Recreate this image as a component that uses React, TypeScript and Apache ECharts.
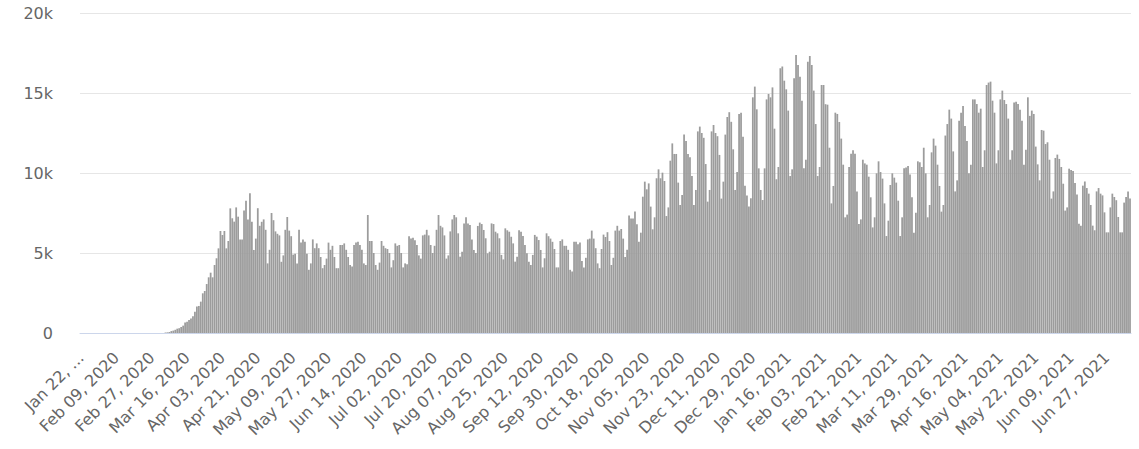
import React, { useEffect, useRef } from 'react';
import * as echarts from 'echarts';

// ---- categories: one per day from Jan 22, 2020 ----
const START_UTC = Date.UTC(2020, 0, 22);
const DAY_COUNT = 535;
const MONTH_NAMES = ['Jan', 'Feb', 'Mar', 'Apr', 'May', 'Jun', 'Jul', 'Aug', 'Sep', 'Oct', 'Nov', 'Dec'];
const dates: string[] = [];
for (let i = 0; i < DAY_COUNT; i++) {
  const d = new Date(START_UTC + i * 86400000);
  const dd = String(d.getUTCDate()).padStart(2, '0');
  dates.push(`${MONTH_NAMES[d.getUTCMonth()]} ${dd}, ${d.getUTCFullYear()}`);
}

// ---- daily values, month by month ----
const jan2020 = [0, 0, 0, 0, 0, 0, 0, 0, 0, 0];
const feb2020 = [0, 0, 0, 0, 0, 0, 0, 0, 0, 0, 0, 0, 0, 0, 0, 0, 0, 0, 0, 0, 0, 0, 0, 0, 0, 0, 0, 0, 0];
const mar2020 = [0, 0, 0, 0, 30, 40, 60, 120, 150, 200, 270, 300, 375, 460, 650, 710, 810, 900, 1040, 1330, 1650, 1690, 1960, 2480, 2625, 3060, 3480, 3770, 3480, 4250, 4670];
const apr2020 = [5290, 6375, 6125, 6375, 5290, 5750, 7790, 7170, 6960, 7850, 7270, 5850, 5850, 7650, 8270, 7100, 8730, 6960, 5190, 5900, 7800, 6700, 6950, 7100, 6450, 4350, 5200, 7500, 7050, 6350];
const may2020 = [6200, 6100, 4450, 4850, 6450, 7250, 6400, 6050, 4900, 4950, 4350, 6450, 5650, 5850, 5700, 4950, 3950, 4350, 5850, 5300, 5600, 5300, 4750, 4050, 4250, 4650, 5650, 5200, 5450, 4750, 4050];
const jun2020 = [4050, 5500, 5500, 5600, 5200, 4750, 4250, 4150, 5500, 5650, 5700, 5500, 5200, 4350, 4250, 7375, 5750, 5750, 5000, 4250, 3950, 4400, 5750, 5450, 5300, 5250, 5000, 4100, 4550, 5600];
const jul2020 = [5450, 5500, 5000, 4100, 4350, 4300, 6050, 5900, 5950, 5800, 5500, 4850, 4650, 6100, 6150, 6450, 6100, 5500, 5000, 5450, 6450, 7375, 6700, 6600, 6100, 4650, 4850, 6350, 7100, 7375, 7230];
const aug2020 = [6230, 4770, 5080, 6850, 7230, 6850, 6750, 5850, 5190, 5000, 6690, 6900, 6810, 6440, 5920, 4980, 5080, 6850, 6810, 6330, 6230, 5920, 4880, 4600, 6540, 6420, 6330, 6020, 5600, 4460, 4770];
const sep2020 = [6420, 6330, 6060, 5500, 4980, 4460, 4250, 4880, 6130, 6020, 5810, 5190, 4100, 4670, 6230, 6050, 5900, 5700, 5250, 4100, 4100, 5750, 5850, 5450, 5450, 5200, 3950, 3850, 5700, 5700];
const oct2020 = [5550, 5650, 4500, 4100, 4700, 5850, 5900, 6400, 5900, 5300, 4350, 4050, 5250, 6150, 6000, 6300, 5750, 4250, 4700, 6400, 6700, 6400, 6500, 5900, 4750, 5200, 7350, 7150, 7150, 7600, 6800];
const nov2020 = [5710, 6270, 8520, 9460, 8980, 9350, 7900, 6480, 7230, 9670, 10230, 9670, 10020, 9500, 7310, 7850, 10770, 11850, 11190, 11190, 9400, 8000, 8625, 12400, 12000, 11190, 10980, 9810, 8000, 8940];
const dec2020 = [12600, 12900, 12500, 12200, 10560, 8210, 8940, 12600, 13000, 12500, 12300, 11130, 8400, 9460, 12400, 13500, 13800, 13200, 11480, 8940, 10060, 13690, 13770, 12270, 9200, 8600, 7900, 8420, 14730, 15400, 13980];
const jan2021 = [10290, 8940, 8310, 10290, 14600, 14940, 14730, 15350, 12770, 9610, 10375, 16540, 16650, 15770, 15230, 13900, 9810, 10230, 15920, 17380, 16750, 16020, 14520, 10290, 10830, 16960, 17310, 16750, 15150, 13060, 9810];
const feb2021 = [10375, 15500, 15500, 14300, 14270, 11580, 8100, 9190, 13770, 13690, 13190, 12150, 10520, 7230, 7400, 10375, 11210, 11420, 11210, 8850, 6810, 7100, 10830, 10600, 10520, 9770, 8480, 6600];
const mar2021 = [7230, 9980, 10730, 10060, 9650, 8100, 6060, 7020, 9250, 9980, 9710, 9400, 8270, 6060, 7230, 10290, 10350, 10440, 9900, 8480, 6270, 7520, 10730, 10670, 10375, 11580, 9980, 7230, 8000, 11290, 12150];
const apr2021 = [11710, 10520, 9190, 7585, 8000, 12340, 13060, 13960, 13400, 11350, 8850, 9540, 13260, 13770, 14190, 12940, 12000, 9980, 10520, 14600, 14600, 14310, 13770, 14020, 10375, 11420, 15500, 15650, 15710, 14520];
const may2021 = [13770, 10600, 11420, 14600, 15150, 14560, 14310, 13400, 10830, 11420, 14400, 14460, 14310, 13960, 13260, 10520, 11460, 14730, 13570, 13900, 13690, 11650, 10540, 9540, 12690, 12650, 11810, 11920, 10830, 8400, 8850];
const jun2021 = [10940, 11150, 10880, 10375, 9330, 7650, 7850, 10270, 10190, 10130, 9370, 8650, 6830, 6710, 9210, 9470, 9060, 8710, 8000, 6710, 6420, 8850, 9060, 8710, 8600, 7540, 6290, 6290, 7850, 8710];
const jul2021 = [8500, 8300, 7250, 6290, 6290, 8150, 8500, 8850, 8400];

const dailyValues: number[] = [
  ...jan2020, ...feb2020, ...mar2020, ...apr2020, ...may2020, ...jun2020,
  ...jul2020, ...aug2020, ...sep2020, ...oct2020, ...nov2020, ...dec2020,
  ...jan2021, ...feb2021, ...mar2021, ...apr2021, ...may2021, ...jun2021, ...jul2021,
];

const yTicks = [0, 5000, 10000, 15000, 20000];

export default function App() {
  const ref = useRef<HTMLDivElement>(null);
  useEffect(() => {
    document.body.style.margin = '0';
    if (!ref.current) return;
    const chart = echarts.init(ref.current, undefined, { renderer: 'svg' });
    chart.setOption({
      animation: false,
      backgroundColor: '#ffffff',
      grid: { left: 80, right: 8, top: 13, bottom: 116, containLabel: false },
      xAxis: {
        type: 'category',
        data: dates,
        boundaryGap: true,
        axisLine: { show: true, lineStyle: { color: '#ccd6eb', width: 1 } },
        axisTick: { show: false },
        axisLabel: {
          interval: 17,
          rotate: 45,
          margin: 22,
          color: '#666666',
          fontSize: 16,
          fontFamily: 'DejaVu Sans',
          formatter: (v: string, idx: number) => (idx === 0 ? 'Jan 22, ...' : v),
        },
        splitLine: { show: false },
      },
      yAxis: {
        type: 'value',
        min: yTicks[0],
        max: yTicks[yTicks.length - 1],
        interval: 5000,
        axisLine: { show: false },
        axisTick: { show: false },
        axisLabel: {
          margin: 27,
          color: '#666666',
          fontSize: 16,
          fontFamily: 'DejaVu Sans',
          formatter: (v: number) => (v === 0 ? '0' : `${v / 1000}k`),
        },
        splitLine: { show: true, lineStyle: { color: '#e6e6e6', width: 1 } },
      },
      series: [
        {
          type: 'bar',
          data: dailyValues,
          barCategoryGap: '10%',
          itemStyle: { color: '#9c9c9c' },
          silent: true,
        },
      ],
    });
    return () => chart.dispose();
  }, []);
  return <div ref={ref} style={{ width: 1139, height: 449 }} />;
}
